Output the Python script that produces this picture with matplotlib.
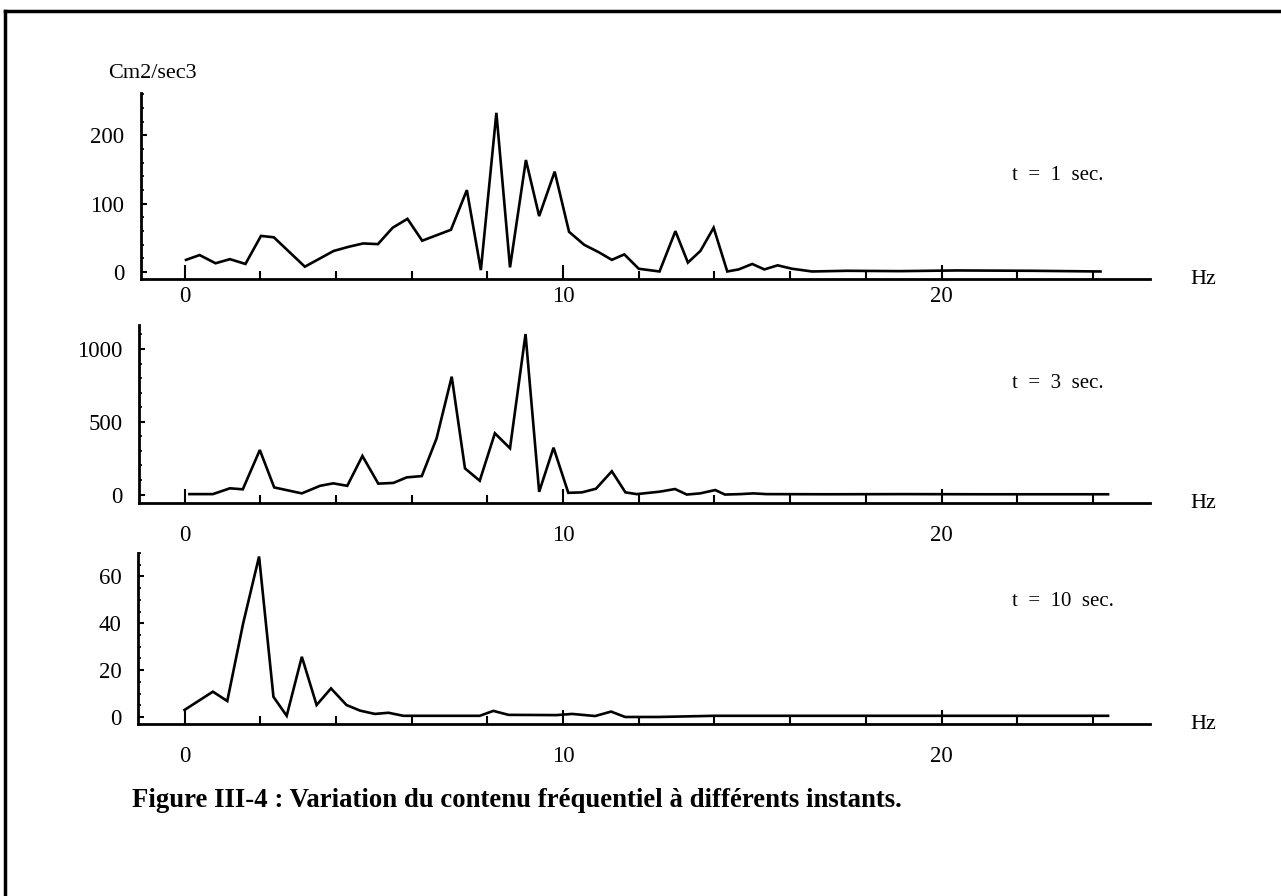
import matplotlib.pyplot as plt
from matplotlib.lines import Line2D
from matplotlib.ticker import MultipleLocator

# Spectres (Hz, cm2/sec3)
freq_1s = [0.04, 0.40, 0.82, 1.20, 1.61, 2.02, 2.36, 3.18, 3.94, 4.33, 4.72, 5.11, 5.50,
           5.89, 6.28, 7.04, 7.46, 7.83, 8.24, 8.60, 9.02, 9.37, 9.78, 10.16, 10.56,
           10.95, 11.29, 11.62, 12.00, 12.55, 12.97, 13.30, 13.63, 13.98, 14.34, 14.64,
           15.00, 15.32, 15.67, 16.05, 16.58, 17.5, 18.9, 20.4, 22.4, 24.2]
val_1s = [18, 25, 13, 19, 12, 53, 51, 8, 31, 37, 42, 41, 65,
          78, 46, 62, 120, 3, 233, 7, 164, 82, 147, 59, 40,
          29, 18, 26, 5, 1, 60, 14, 31, 65, 1, 4,
          12, 4, 10, 5, 1, 2, 1.5, 2.5, 2, 1]

freq_3s = [0.13, 0.75, 1.20, 1.54, 1.99, 2.37, 3.10, 3.58, 3.93, 4.30, 4.70, 5.12, 5.52,
           5.87, 6.27, 6.66, 7.06, 7.41, 7.80, 8.20, 8.60, 9.01, 9.37, 9.75, 10.14,
           10.50, 10.87, 11.29, 11.65, 11.95, 12.56, 12.96, 13.27, 13.62, 14.02, 14.28,
           14.68, 15.03, 15.38, 17.0, 19.0, 21.0, 22.6, 24.4]
val_3s = [3, 3, 43, 36, 306, 49, 8, 60, 77, 60, 265, 75, 80,
          118, 127, 386, 810, 180, 95, 421, 318, 1103, 19, 322, 12,
          15, 40, 160, 15, 3, 20, 38, 0, 8, 31, 0,
          3, 8, 3, 2, 3, 2, 2, 2]

freq_10s = [0.0, 0.75, 1.13, 1.55, 1.97, 2.35, 2.70, 3.10, 3.49, 3.87, 4.28, 4.64, 5.03,
            5.39, 5.78, 7.80, 8.16, 8.56, 9.83, 10.24, 10.85, 11.27, 11.64, 12.52,
            14.0, 16.0, 18.0, 20.0, 22.8, 24.4]
val_10s = [3, 10.8, 6.8, 40, 68.5, 8.6, 0.5, 25.7, 5.1, 12.2, 5.1, 2.7, 1.3,
           1.8, 0.5, 0.5, 2.6, 0.9, 0.8, 1.3, 0.4, 2.3, 0, 0,
           0.5, 0.5, 0.5, 0.5, 0.5, 0.5]

labels = ['t  =  1  sec.', 't  =  3  sec.', 't  =  10  sec.']
W, H = 1281, 896

fig = plt.figure(figsize=(W / 100, H / 100), dpi=100)
fig.patch.set_facecolor('white')

def px(x, y):
    return x / W, 1 - y / H

# (gauche, haut, bas) en pixels, limites y, graduations y, pas mineur, pad labels x
panneaux = [
    (141, 93, 279, (-10, 262), [0, 100, 200], 20, 5, freq_1s, val_1s, 175),
    (139, 325, 503, (-58, 1165), [0, 500, 1000], 100, 16, freq_3s, val_3s, 383),
    (138, 553, 724, (-3, 70), [0, 20, 40, 60], 5, 16, freq_10s, val_10s, 602),
]
right = 1150

for i, (l, t, b, ylim, yt, ymin, xpad, f, v, ty) in enumerate(panneaux):
    x0, y0 = px(l, b)
    ax = fig.add_axes([x0, y0, (right - l) / W, (b - t) / H])
    ax.plot(f, v, color='black', lw=1.9, solid_joinstyle='miter')
    ax.set_xlim((l - 184.5) / 37.85, (right - 184.5) / 37.85)
    ax.set_ylim(*ylim)
    for s in ['top', 'right']:
        ax.spines[s].set_visible(False)
    for s in ['left', 'bottom']:
        ax.spines[s].set_linewidth(2)
    ax.set_xticks([0, 10, 20])
    ax.xaxis.set_minor_locator(MultipleLocator(2))
    ax.set_yticks(yt)
    ax.yaxis.set_minor_locator(MultipleLocator(ymin))
    ax.tick_params(axis='x', which='major', direction='in', length=10, width=1.5,
                   pad=xpad, labelsize=16.5)
    ax.tick_params(axis='x', which='minor', direction='in', length=6, width=1.5)
    ax.tick_params(axis='y', which='major', direction='in', length=4, width=1.5,
                   pad=12, labelsize=16.5)
    ax.tick_params(axis='y', which='minor', direction='in', length=2, width=1.2)
    for lab in ax.get_xticklabels() + ax.get_yticklabels():
        lab.set_fontfamily('Liberation Serif')
    ax.patch.set_alpha(0)
    fig.text(*px(1190, b), 'Hz', fontsize=16, family='Liberation Serif', va='center')
    fig.text(*px(1012, ty), labels[i], fontsize=15, family='Liberation Serif', va='center')

fig.text(*px(108, 73), 'Cm2/sec3', fontsize=16, family='Liberation Serif', va='center')

fig.text(*px(132, 800), 'Figure III-4 : Variation du contenu fréquentiel à différents instants.',
         fontsize=19.3, family='Liberation Serif', weight='bold', va='center')

# cadre du document scanné
fig.add_artist(Line2D([5 / W, 1], [1 - 11 / H, 1 - 11 / H], color='black', lw=2.5))
fig.add_artist(Line2D([5 / W, 5 / W], [0, 1 - 11 / H], color='black', lw=2.5))

fig.savefig('out.png', dpi=100, facecolor='white')
